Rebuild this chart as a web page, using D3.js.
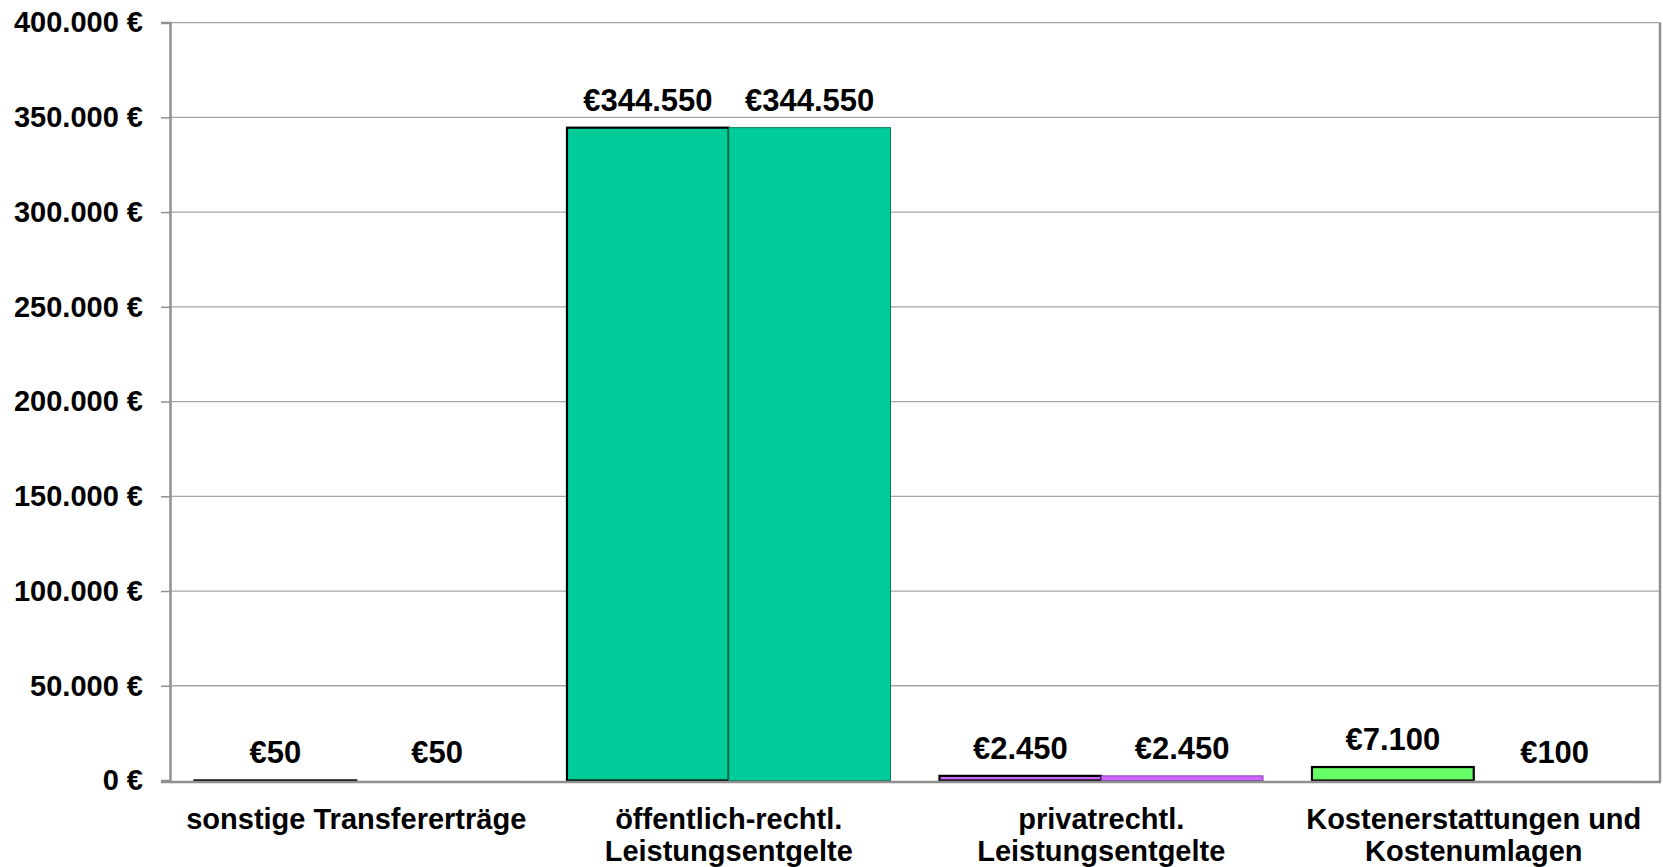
<!DOCTYPE html>
<html>
<head>
<meta charset="utf-8">
<script src="https://cdn.jsdelivr.net/npm/d3@7"></script>
<style>
  html, body { margin: 0; padding: 0; background: #fff; }
  svg { display: block; }
  text { font-family: "Liberation Sans", Arial, sans-serif; font-weight: bold; fill: #000; }
</style>
</head>
<body>
<svg id="chart" width="1663" height="867"></svg>
<script>
// ---- data ----
const categories = [
  ["sonstige Transfererträge"],
  ["öffentlich-rechtl.", "Leistungsentgelte"],
  ["privatrechtl.", "Leistungsentgelte"],
  ["Kostenerstattungen und", "Kostenumlagen"]
];
const seriesNames = ["Reihe 1", "Reihe 2"];
const series1 = [50, 344550, 2450, 7100];
const series2 = [50, 344550, 2450, 100];
const categoryColors = ["#00CC99", "#00CC99", "#CC66FF", "#66FF66"];
const series2Strokes = ["#007a5c", "#007a5c", "#8a3fb0", "#3a9a3a"];
const yTicks = [0, 50000, 100000, 150000, 200000, 250000, 300000, 350000, 400000];

(function () {
// ---- layout ----
const svg = d3.select("#chart");
const mLeft = 170, mRight = 1660, mTop = 22.6, mBottom = 780.5;

const catKeys = categories.map(c => c.join(" "));
const x0 = d3.scaleBand().domain(catKeys).range([mLeft, mRight]).padding(0);
const gap = x0.bandwidth() * 0.0657;
const x1 = d3.scaleBand().domain(seriesNames).range([gap, x0.bandwidth() - gap]).padding(0);
const y = d3.scaleLinear().domain([0, 400000]).range([mBottom, mTop]);

const fmtTick = v => d3.format(",")(v).replace(/,/g, ".") + " €";
const fmtVal = v => "€" + d3.format(",")(v).replace(/,/g, ".");

// gridlines
svg.append("g")
  .selectAll("line").data(yTicks.filter(t => t > 0)).join("line")
  .attr("x1", mLeft).attr("x2", mRight)
  .attr("y1", d => y(d)).attr("y2", d => y(d))
  .attr("stroke", "#a6a6a6").attr("stroke-width", 1.3);

// right border
svg.append("line")
  .attr("x1", mRight).attr("x2", mRight).attr("y1", mTop).attr("y2", mBottom + 1.5)
  .attr("stroke", "#909090").attr("stroke-width", 2.5);

// y axis
const yAxis = d3.axisLeft(y).tickValues(yTicks).tickFormat(fmtTick).tickSize(9).tickPadding(18);
const gy = svg.append("g").attr("transform", `translate(${mLeft},0)`).call(yAxis);
gy.select(".domain").attr("stroke", "#909090").attr("stroke-width", 2.5);
gy.selectAll(".tick line").attr("stroke", "#909090").attr("stroke-width", 1.5);
gy.selectAll(".tick text")
  .attr("font-size", 29).attr("font-family", "Liberation Sans, Arial, sans-serif")
  .attr("font-weight", "bold").attr("fill", "#000");

// bars
const rows = catKeys.map((k, i) => ({ key: k, i, vals: [series1[i], series2[i]] }));
const gCat = svg.append("g").selectAll("g").data(rows).join("g")
  .attr("transform", d => `translate(${x0(d.key)},0)`);

gCat.selectAll("rect").data(d => d.vals.map((v, s) => ({ v, s, i: d.i }))).join("rect")
  .attr("x", d => x1(seriesNames[d.s]))
  .attr("width", x1.bandwidth())
  .attr("y", d => y(d.v))
  .attr("height", d => mBottom - y(d.v))
  .attr("fill", d => categoryColors[d.i])
  .attr("stroke", d => d.s === 0 ? "#000" : (mBottom - y(d.v) >= 2 ? series2Strokes[d.i] : "none"))
  .attr("stroke-width", d => d.s === 0 ? 2.2 : 1);

// x axis line (drawn over bars, just below their base)
svg.append("line")
  .attr("x1", mLeft - 9).attr("x2", mRight + 1)
  .attr("y1", mBottom + 1.5).attr("y2", mBottom + 1.5)
  .attr("stroke", "#909090").attr("stroke-width", 2.5);

// value labels
gCat.selectAll("text.val").data(d => d.vals.map((v, s) => ({ v, s, i: d.i }))).join("text")
  .attr("class", "val")
  .attr("x", d => x1(seriesNames[d.s]) + x1.bandwidth() / 2)
  .attr("y", d => y(d.v) - 17)
  .attr("text-anchor", "middle")
  .attr("font-size", 31)
  .text(d => fmtVal(d.v));

// category labels
svg.append("g").selectAll("text").data(categories).join("text")
  .attr("x", (d, i) => x0(catKeys[i]) + x0.bandwidth() / 2)
  .attr("y", 829)
  .attr("text-anchor", "middle")
  .attr("font-size", 29)
  .selectAll("tspan").data(d => d).join("tspan")
  .attr("x", function() { return this.parentNode.getAttribute("x"); })
  .attr("dy", (d, j) => j === 0 ? 0 : 32)
  .text(d => d);
})();
</script>
</body>
</html>
